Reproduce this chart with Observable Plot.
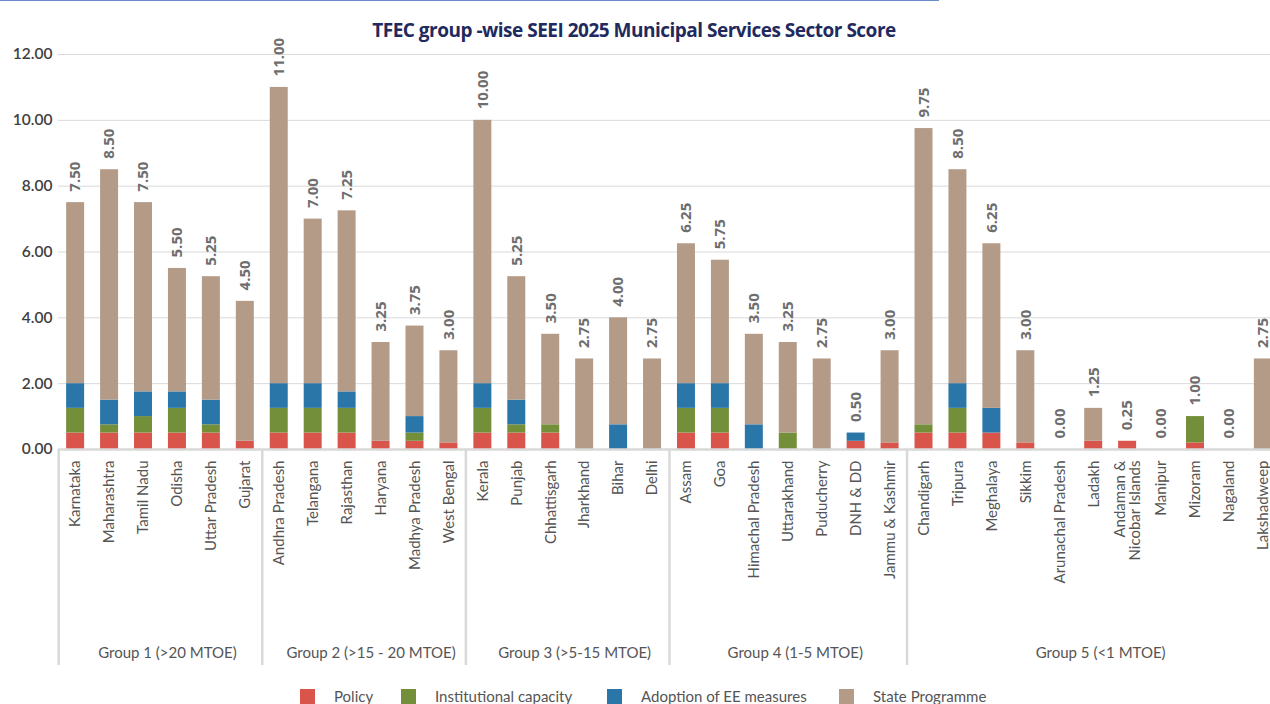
<!DOCTYPE html>
<html>
<head>
<meta charset="utf-8">
<script src="https://cdn.jsdelivr.net/npm/d3@7"></script>
<script src="https://cdn.jsdelivr.net/npm/@observablehq/plot@0.6"></script>
<style>
  html, body { margin: 0; padding: 0; background: #fff; overflow: hidden; width: 1270px; height: 704px; }
  #wrap { position: relative; width: 1270px; height: 704px; }
  #topline { position: absolute; left: 0; top: 0; width: 939px; height: 1px; background: #6a8cc8; }
  #title { position: absolute; left: 0; width: 1268px; top: 17px; text-align: center;
    font-family: "Open Sans", sans-serif; font-weight: 700; font-size: 19px; letter-spacing: -0.5px; color: #1f2a5e; }
  #chart { position: absolute; left: 0; top: 0; }
  #legend { position: absolute; top: 689px; left: 0; font-family: Lato, sans-serif; font-size: 15px; color: #555; }
  .li { position: absolute; white-space: nowrap; }
  .sw { position: absolute; width: 15px; height: 15px; top: 0; }
</style>
</head>
<body>
<div id="wrap">
  <div id="chart"></div>
  <div id="topline"></div>
  <div id="title">TFEC group -wise SEEI 2025 Municipal Services Sector Score</div>
  <div id="legend"></div>
</div>
<script>
const categories = ["Karnataka","Maharashtra","Tamil Nadu","Odisha","Uttar Pradesh","Gujarat",
  "Andhra Pradesh","Telangana","Rajasthan","Haryana","Madhya Pradesh","West Bengal",
  "Kerala","Punjab","Chhattisgarh","Jharkhand","Bihar","Delhi",
  "Assam","Goa","Himachal Pradesh","Uttarakhand","Puducherry","DNH & DD","Jammu & Kashmir",
  "Chandigarh","Tripura","Meghalaya","Sikkim","Arunachal Pradesh","Ladakh","Andaman &\nNicobar Islands","Manipur","Mizoram","Nagaland","Lakshadweep"];
const policy        = [0.5,0.5,0.5,0.5,0.5,0.25, 0.5,0.5,0.5,0.25,0.25,0.2, 0.5,0.5,0.5,0,0,0, 0.5,0.5,0,0,0,0.25,0.2, 0.5,0.5,0.5,0.2,0,0.25,0.25,0,0.2,0,0];
const institutional = [0.75,0.25,0.5,0.75,0.25,0, 0.75,0.75,0.75,0,0.25,0, 0.75,0.25,0.25,0,0,0, 0.75,0.75,0,0.5,0,0,0, 0.25,0.75,0,0,0,0,0,0,0.8,0,0];
const adoption      = [0.75,0.75,0.75,0.5,0.75,0, 0.75,0.75,0.5,0,0.5,0, 0.75,0.75,0,0,0.75,0, 0.75,0.75,0.75,0,0,0.25,0, 0,0.75,0.75,0,0,0,0,0,0,0,0];
const stateProgramme= [5.5,7.0,5.75,3.75,3.75,4.25, 9.0,5.0,5.5,3.0,2.75,2.8, 8.0,3.75,2.75,2.75,3.25,2.75, 4.25,3.75,2.75,2.75,2.75,0,2.8, 9.0,6.5,5.0,2.8,0,1.0,0,0,0,0,2.75];
const totals        = [7.5,8.5,7.5,5.5,5.25,4.5, 11.0,7.0,7.25,3.25,3.75,3.0, 10.0,5.25,3.5,2.75,4.0,2.75, 6.25,5.75,3.5,3.25,2.75,0.5,3.0, 9.75,8.5,6.25,3.0,0,1.25,0.25,0,1.0,0,2.75];
const groupNames  = ["Group 1 (>20 MTOE)","Group 2 (>15 - 20 MTOE)","Group 3 (>5-15 MTOE)","Group 4 (1-5 MTOE)","Group 5 (<1 MTOE)"];
const groupSizes  = [6,6,6,7,11];
const components  = ["Policy","Institutional capacity","Adoption of EE measures","State Programme"];
const colors      = ["#d9544a","#748f3a","#2a76a8","#b39b88"];
const yTicks      = [0,2,4,6,8,10,12];

// long table for stacking
const compArrays = [policy, institutional, adoption, stateProgramme];
const rows = [];
categories.forEach((c, i) => compArrays.forEach((arr, k) => rows.push({state: c, component: components[k], value: arr[i]})));
const totalRows = categories.map((c, i) => ({state: c, total: totals[i]}));

// layout
const W = 1290, H = 680, mL = 58, mR = 10, mT = 54, mB = 231;
const pIn = 0.47, pOut = 0.24;
const step = (W - mL - mR) / (categories.length - pIn + 2 * pOut);

// group boundaries and label anchors
let acc = 0;
const groupStarts = [], labelsEven = [], labelsOdd = [];
groupSizes.forEach((n, g) => {
  groupStarts.push({state: categories[acc]});
  const mid = acc + Math.floor(n / 2);
  (n % 2 === 0 ? labelsEven : labelsOdd).push({state: categories[mid], name: groupNames[g]});
  acc += n;
});

const labelStyle = {x: "state", text: "name", frameAnchor: "bottom", dy: 208, fontSize: 15, fill: "#555"};
const chart = Plot.plot({
  width: W, height: H,
  marginLeft: mL, marginRight: mR, marginTop: mT, marginBottom: mB,
  style: {fontFamily: "Lato, sans-serif", overflow: "visible", maxWidth: "none", background: "transparent"},
  x: {domain: categories, paddingInner: pIn, paddingOuter: pOut, align: 0.5},
  y: {domain: [0, 12], ticks: yTicks},
  color: {domain: components, range: colors},
  marks: [
    Plot.gridY(yTicks.slice(1), {stroke: "#d9d9d9", strokeOpacity: 1, strokeWidth: 1}),
    Plot.axisY(yTicks, {tickSize: 0, tickPadding: 6, tickFormat: d3.format(".2f"), fontSize: 15.5, fontWeight: 600, fill: "#404040", label: null}),
    Plot.barY(rows, {x: "state", y: "value", fill: "component"}),
    Plot.ruleY([0], {stroke: "#d9d9d9", strokeWidth: 2.5}),
    Plot.ruleX(groupStarts, {x: "state", dx: -step / 2, stroke: "#d9d9d9", strokeWidth: 2.5, insetTop: H - mT - mB, insetBottom: -216}),
    Plot.axisX({tickSize: 0, tickPadding: 11, tickRotate: -90, fontSize: 15, fill: "#555", label: null}),
    Plot.text(totalRows, {x: "state", y: "total", text: d => d3.format(".2f")(d.total), rotate: -90, textAnchor: "start", dy: -11, fontSize: 15, fontWeight: 700, fontFamily: "Open Sans, sans-serif", fill: "#6e6e6e"}),
    Plot.text(labelsEven, {...labelStyle, dx: -step / 2 + 7}),
    Plot.text(labelsOdd, {...labelStyle, dx: 7})
  ]
});
document.getElementById("chart").appendChild(chart);

// legend
const legendX = [300, 401, 607, 839];
const leg = document.getElementById("legend");
components.forEach((c, k) => {
  const d = document.createElement("div");
  d.className = "li";
  d.style.left = legendX[k] + "px";
  d.innerHTML = `<span class="sw" style="left:0;background:${colors[k]}"></span><span style="position:absolute;left:34px;top:-2px">${c}</span>`;
  leg.appendChild(d);
});
</script>
</body>
</html>
